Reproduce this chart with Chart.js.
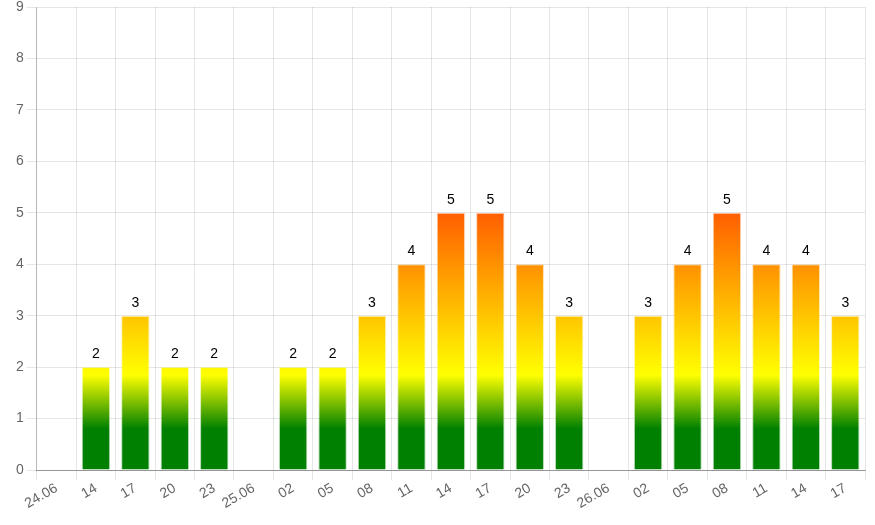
<!DOCTYPE html>
<html>
<head>
<meta charset="utf-8">
<script src="https://cdn.jsdelivr.net/npm/chart.js@4/dist/chart.umd.min.js"></script>
<style>
html,body{margin:0;padding:0;background:#fff;}
#wrap{width:875px;height:525px;}
</style>
</head>
<body>
<div id="wrap"><canvas id="c" width="875" height="525"></canvas></div>
<script>
const labels = ["24.06","14","17","20","23","25.06","02","05","08","11","14","17","20","23","26.06","02","05","08","11","14","17"];
const values = [null,2,3,2,2,null,2,2,3,4,5,5,4,3,null,3,4,5,4,4,3];
const yTicks = [0,1,2,3,4,5,6,7,8,9];

const FONT = "'Liberation Sans', Arial, sans-serif";

function makeGradient(chart, alpha) {
  const {ctx, chartArea, scales} = chart;
  if (!chartArea) return null;
  const y = scales.y;
  const y0 = y.getPixelForValue(0), y5 = y.getPixelForValue(5);
  const g = ctx.createLinearGradient(0, y0, 0, y5);
  const a = alpha;
  g.addColorStop(0, `rgba(0,128,0,${a})`);
  g.addColorStop(0.16, `rgba(0,128,0,${a})`);
  g.addColorStop(0.37, `rgba(255,255,0,${a})`);
  g.addColorStop(1, `rgba(255,94,0,${a})`);
  return g;
}

const labelPlugin = {
  id: 'valueLabels',
  afterDatasetsDraw(chart) {
    const {ctx} = chart;
    const meta = chart.getDatasetMeta(0);
    ctx.save();
    ctx.font = "14px " + FONT;
    ctx.fillStyle = '#000';
    ctx.textAlign = 'center';
    ctx.textBaseline = 'bottom';
    meta.data.forEach((bar, i) => {
      const v = chart.data.datasets[0].data[i];
      if (v === null || v === undefined) return;
      ctx.fillText(String(v), bar.x, bar.y - 6);
    });
    ctx.restore();
  }
};

new Chart(document.getElementById('c'), {
  type: 'bar',
  data: {
    labels: labels,
    datasets: [{
      data: values,
      backgroundColor: (c) => makeGradient(c.chart, 1),
      borderColor: (c) => makeGradient(c.chart, 0.3),
      borderWidth: 1
    }]
  },
  options: {
    responsive: false,
    animation: false,
    layout: {padding: {right: 10, top: 0, left: 13}},
    plugins: {legend: {display: false}, tooltip: {enabled: false}},
    scales: {
      x: {
        afterFit: (scale) => { scale.height = 55; },
        grid: {color: 'rgba(0,0,0,0.1)', tickLength: 10},
        border: {color: 'rgba(0,0,0,0.35)'},
        ticks: {minRotation: 30, maxRotation: 30, autoSkip: false, color: '#666', padding: 0, font: {family: FONT, size: 14}}
      },
      y: {
        min: 0, max: 9,
        afterBuildTicks: (axis) => { axis.ticks = yTicks.map(v => ({value: v})); },
        afterFit: (scale) => { scale.paddingTop = 7; },
        grid: {color: 'rgba(0,0,0,0.1)', tickLength: 10},
        border: {color: 'rgba(0,0,0,0.2)'},
        ticks: {stepSize: 1, color: '#666', padding: 3, font: {family: FONT, size: 14}}
      }
    }
  },
  plugins: [labelPlugin]
});
</script>
</body>
</html>
